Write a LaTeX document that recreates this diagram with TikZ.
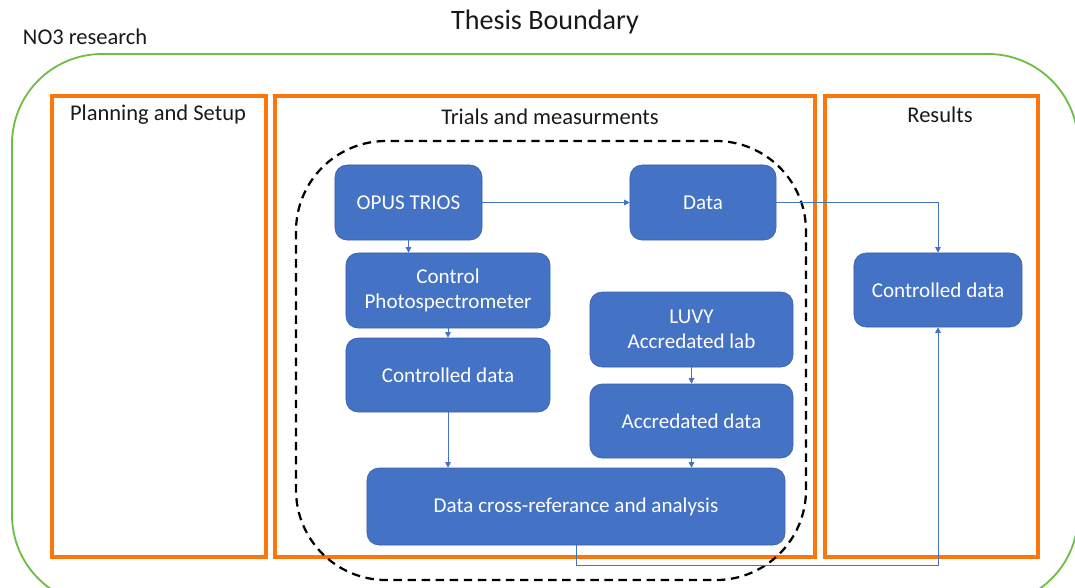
\documentclass[tikz,border=0pt]{standalone}
\usepackage{fontspec}
\setmainfont{Carlito}
\usetikzlibrary{arrows.meta}
\definecolor{boxblue}{RGB}{68,114,196}
\definecolor{boxline}{RGB}{55,95,170}
\definecolor{frameorange}{RGB}{252,118,12}
\definecolor{framegreen}{RGB}{110,190,70}
\begin{document}
\begin{tikzpicture}[x=0.025cm,y=-0.025cm,
    block/.style={draw=boxline,fill=boxblue,text=white,rounded corners=0.3cm,
        align=center,font=\fontsize{15}{18}\selectfont,inner sep=2pt},
    phase/.style={draw=frameorange,line width=2.2pt},
    link/.style={draw=boxblue,line width=0.6pt,-{Triangle[length=4pt,width=4pt]}},
    title/.style={text=black!90,font=\fontsize{16}{19}\selectfont}]
    \clip (0,0) rectangle (1075,587);
    %boundary
    \node[title,font=\fontsize{20}{24}\selectfont] (thesis) at (545,22) {Thesis Boundary};
    \node[title,anchor=west] (no3) at (18,37) {NO3 research};
    \draw[framegreen,line width=1.3pt,rounded corners=2.25cm] (12,54) rectangle (1078,605);
    %phases
    \draw[phase] (52,96) rectangle (266,557);
    \draw[phase] (275,96) rectangle (815,557);
    \draw[phase] (825,96) rectangle (1038,557);
    \node[title] (plan) at (158,115) {Planning and Setup};
    \node[title] (trials) at (550,117) {Trials and measurments};
    \node[title] (res) at (940,115) {Results};
    \draw[line width=1.6pt,dash pattern=on 6pt off 4pt,rounded corners=2.25cm] (296,141) rectangle (806,580);
    %blocks
    \node[block,minimum width=3.675cm,minimum height=1.875cm] (opus) at (408.5,202.5) {OPUS TRIOS};
    \node[block,minimum width=3.65cm,minimum height=1.875cm] (data) at (703,202.5) {Data};
    \node[block,minimum width=5.1cm,minimum height=1.875cm] (control) at (448,290.5) {Control\\Photospectrometer};
    \node[block,minimum width=5.1cm,minimum height=1.85cm] (ctrldata) at (448,375) {Controlled data};
    \node[block,minimum width=5.075cm,minimum height=1.875cm] (luvy) at (691.5,329.5) {LUVY\\Accredated lab};
    \node[block,minimum width=5.075cm,minimum height=1.85cm] (accdata) at (691.5,421) {Accredated data};
    \node[block,minimum width=10.45cm,minimum height=1.925cm] (cross) at (576,506.5) {Data cross-referance and analysis};
    \node[block,minimum width=4.2cm,minimum height=1.85cm] (resdata) at (938,290) {Controlled data};
    %links
    \draw[link] (opus) -- (data);
    \draw[link] (opus.south) -- (opus.south |- control.north);
    \draw[link] (control) -- (ctrldata);
    \draw[link] (ctrldata) -- (ctrldata |- cross.north);
    \draw[link] (luvy) -- (accdata);
    \draw[link] (accdata) -- (accdata |- cross.north);
    \draw[link] (data.east) -| (resdata.north);
    \coordinate (bend) at (938,565);
    \draw[link] (cross.south) |- (bend) -- (resdata.south);
\end{tikzpicture}
\end{document}
